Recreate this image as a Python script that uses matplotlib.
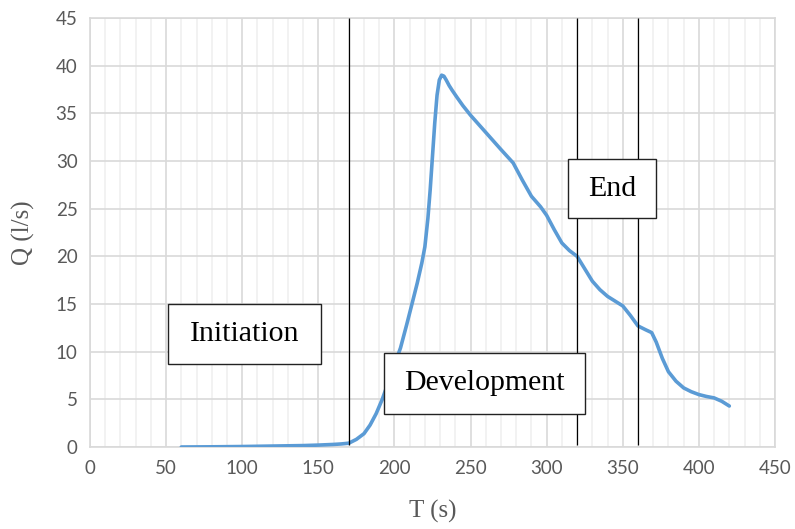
import matplotlib.pyplot as plt
from matplotlib.patches import Rectangle

# discharge curve
t_s = [60, 80, 100, 120, 140, 150, 160, 165, 170, 175, 180, 184, 188, 192, 196, 200,
       204, 208, 212, 215, 218, 220, 222, 223.5, 225, 226.5, 228, 229.5, 231, 232.5,
       234, 236, 238, 241, 245, 250, 260, 270, 278, 284, 290, 296, 300, 305, 310, 315,
       320, 325, 330, 335, 340, 345, 350, 355, 360, 365, 369, 372, 376, 380, 385,
       390, 395, 400, 405, 410, 415, 420]
q_ls = [0.0, 0.02, 0.05, 0.1, 0.15, 0.2, 0.27, 0.32, 0.4, 0.8, 1.4, 2.3, 3.5, 5.0, 6.8, 8.6,
        10.4, 12.8, 15.3, 17.2, 19.3, 21.0, 24.0, 27.0, 30.5, 34.0, 36.9, 38.5, 39.0, 38.9,
        38.5, 37.9, 37.4, 36.7, 35.8, 34.8, 33.0, 31.2, 29.8, 28.0, 26.3, 25.2, 24.3, 22.8, 21.4, 20.6,
        20.0, 18.7, 17.4, 16.5, 15.8, 15.3, 14.8, 13.8, 12.7, 12.3, 12.0, 11.0, 9.3, 7.9, 6.9,
        6.2, 5.8, 5.5, 5.3, 5.15, 4.8, 4.3]

phase_lines = [170, 320, 360]
phase_names = ['Initiation', 'Development', 'End']
# box extents in data units (x0, x1, y0, y1)
phase_boxes = [(51.4, 151.6, 8.75, 14.95), (193.2, 325.2, 3.5, 9.9), (313.9, 371.9, 24.0, 30.2)]

fig = plt.figure(figsize=(7.95, 5.29), dpi=100)
ax = fig.add_axes([0.1132, 0.155, 0.8616, 0.811])

ax.set_xlim(0, 450)
ax.set_ylim(0, 45)
ax.set_xticks(range(0, 451, 50))
ax.set_xticks(range(0, 451, 10), minor=True)
ax.set_yticks(range(0, 46, 5))
ax.grid(True, which='major', color='#d9d9d9', lw=1.2, zorder=0)
ax.grid(True, which='minor', axis='x', color='#f0f0f0', lw=1.2, zorder=0)
for s in ax.spines.values():
    s.set_color('#d9d9d9')
    s.set_linewidth(1.2)
ax.tick_params(which='both', length=0, labelsize=13.5, labelcolor='#595959', pad=9)
for lab in ax.get_xticklabels() + ax.get_yticklabels():
    lab.set_family('Lato')

ax.plot(t_s, q_ls, color='#5b9bd5', lw=2.6, solid_capstyle='round', solid_joinstyle='round', zorder=3)

ax.vlines(phase_lines, 0.25, 45, colors='black', lw=0.9, zorder=4)

for name, (x0, x1, y0, y1) in zip(phase_names, phase_boxes):
    ax.add_patch(Rectangle((x0, y0), x1 - x0, y1 - y0, facecolor='white',
                           edgecolor='#222222', lw=1.0, zorder=5))
    ax.text((x0 + x1) / 2, (y0 + y1) / 2, name, ha='center', va='center',
            family='Liberation Serif', fontsize=21.5, zorder=6)

ax.set_xlabel('T (s)', family='Liberation Serif', fontsize=18, color='#595959', labelpad=17)
ax.set_ylabel('Q (l/s)', family='Liberation Serif', fontsize=18, color='#595959', labelpad=15)

fig.savefig('out.png', dpi=100)
